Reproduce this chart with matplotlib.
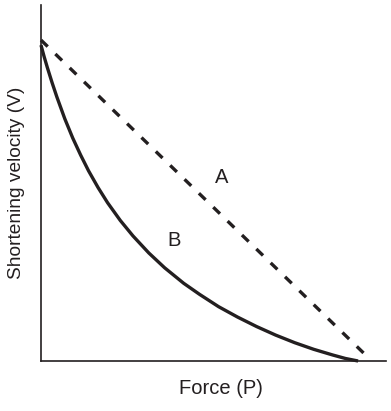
import matplotlib
matplotlib.use("Agg")
import matplotlib.pyplot as plt

# Curve B (hyperbolic force-velocity)
force_b = [0.0, 0.01, 0.02, 0.035, 0.05, 0.075, 0.10, 0.125, 0.15, 0.18, 0.21,
           0.25, 0.29, 0.34, 0.39, 0.45, 0.50, 0.56, 0.62, 0.68, 0.74, 0.80,
           0.86, 0.92, 0.96, 1.0]
vel_b = [1.0, 0.963, 0.929, 0.881, 0.836, 0.767, 0.706, 0.652, 0.602, 0.549,
         0.501, 0.445, 0.396, 0.342, 0.295, 0.246, 0.211, 0.172, 0.139, 0.109,
         0.082, 0.058, 0.037, 0.019, 0.008, 0.0]

# Line A (straight dashed)
force_a = [0.0, 1.035]
vel_a = [1.016, 0.008]

labels = ["A", "B"]
label_x = [0.571, 0.42]
label_y = [0.582, 0.383]

ink = "#231f20"
plt.rcParams['font.family'] = ['Liberation Sans', 'DejaVu Sans']

fig = plt.figure(figsize=(3.91, 4.11), dpi=100)
ax = fig.add_axes([41/391, 1 - 361/411, (386-41)/391, (361-5)/411])
ax.set_xlim(0, 1.088)
ax.set_ylim(0, 1.127)

ax.plot(force_b, vel_b, color=ink, lw=2.4, solid_capstyle='butt',
        solid_joinstyle='round', clip_on=False)
ax.plot(force_a, vel_a, color=ink, lw=2.4, dashes=(2.8, 3.2),
        dash_capstyle='butt', clip_on=False)

for t, x, y in zip(labels, label_x, label_y):
    ax.text(x, y, t, ha='center', va='center', fontsize=14.5, color=ink)

for s in ['top', 'right']:
    ax.spines[s].set_visible(False)
for s in ['left', 'bottom']:
    ax.spines[s].set_linewidth(1.2)
    ax.spines[s].set_color(ink)
ax.set_xticks([])
ax.set_yticks([])

fig.text(221/391, 1 - 388/411, "Force (P)", ha='center', va='center',
         fontsize=14.5, color=ink)
fig.text(17/391, 1 - 183/411, "Shortening velocity (V)", ha='center',
         va='center', rotation=90, fontsize=13.8, color=ink)

fig.savefig("out.png", dpi=100)
